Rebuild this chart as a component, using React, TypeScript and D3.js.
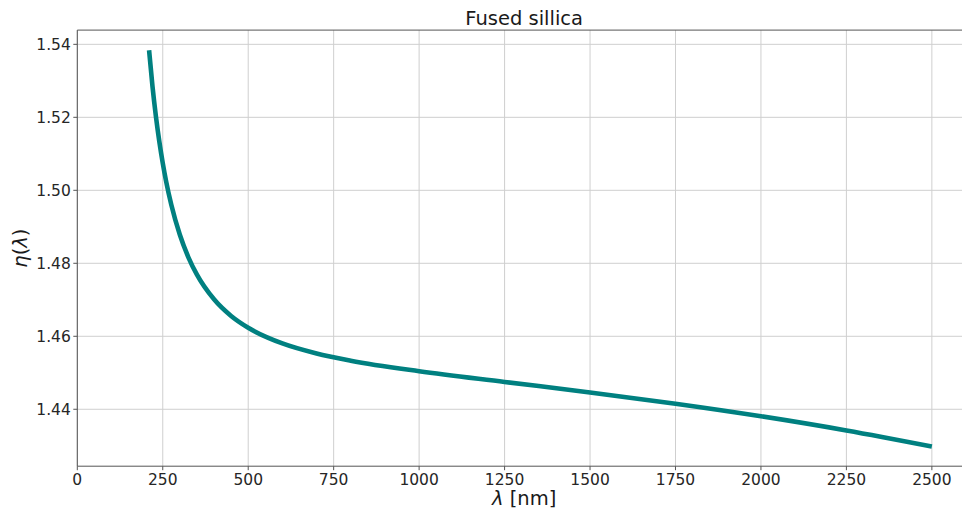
import React from "react";
import * as d3 from "d3";

const wavelengths = [210, 220, 230, 240, 250, 260, 275, 300, 325, 350, 400, 450, 500, 600, 700, 800, 1000, 1250, 1500, 1750, 2000, 2250, 2500];
const indices = [1.53836, 1.52845, 1.52024, 1.51333, 1.50745, 1.50238, 1.49602, 1.4878, 1.48164, 1.47689, 1.47013, 1.46557, 1.46233, 1.45804, 1.45529, 1.45332, 1.45042, 1.44749, 1.44462, 1.44153, 1.43809, 1.4342, 1.4298];
const xTicks = [0, 250, 500, 750, 1000, 1250, 1500, 1750, 2000, 2250, 2500];
const yTicks = [1.44, 1.46, 1.48, 1.5, 1.52, 1.54];

const W = 962;
const H = 514;
const left = 77.3;
const right = 971;
const top = 30.1;
const bottom = 466.2;
const font = "'DejaVu Sans', sans-serif";

export default function App() {
  const x = d3.scaleLinear().domain([0, 2614.5]).range([left, right]);
  const y = d3.scaleLinear().domain([1.4244, 1.5439]).range([bottom, top]);
  const pts = wavelengths.map((w, i) => [w, indices[i]] as [number, number]);
  const line = d3
    .line<[number, number]>()
    .x((d) => x(d[0]))
    .y((d) => y(d[1]))
    .curve(d3.curveMonotoneX);
  const yFmt = d3.format(".2f");
  return (
    <svg
      width={W}
      height={H}
      style={{ position: "absolute", left: 0, top: 0, background: "#fff" }}
      fontFamily={font}
    >
      <rect x={0} y={0} width={W} height={H} fill="#fff" />
      {xTicks.map((t) => (
        <line key={"gx" + t} x1={x(t)} x2={x(t)} y1={top} y2={bottom} stroke="#cfcfcf" strokeWidth={1} />
      ))}
      {yTicks.map((t) => (
        <line key={"gy" + t} x1={left} x2={right} y1={y(t)} y2={y(t)} stroke="#cfcfcf" strokeWidth={1} />
      ))}
      <path d={line(pts) || ""} fill="none" stroke="#008080" strokeWidth={4.6} />
      <line x1={left} x2={left} y1={top} y2={bottom} stroke="#555" strokeWidth={1} />
      <line x1={left} x2={right} y1={bottom} y2={bottom} stroke="#555" strokeWidth={1} />
      <line x1={left} x2={right} y1={top} y2={top} stroke="#555" strokeWidth={1} />
      {xTicks.map((t) => (
        <g key={"tx" + t}>
          <line x1={x(t)} x2={x(t)} y1={bottom} y2={bottom + 4} stroke="#555" strokeWidth={1} />
          <text x={x(t)} y={bottom + 18.5} textAnchor="middle" fontSize={15.5} fill="#262626">
            {t}
          </text>
        </g>
      ))}
      {yTicks.map((t) => (
        <g key={"ty" + t}>
          <line x1={left - 4} x2={left} y1={y(t)} y2={y(t)} stroke="#555" strokeWidth={1} />
          <text x={left - 6.5} y={y(t)} dy="0.36em" textAnchor="end" fontSize={15.5} fill="#262626">
            {yFmt(t)}
          </text>
        </g>
      ))}
      <text x={(left + right) / 2} y={25} textAnchor="middle" fontSize={19.5} fill="#1a1a1a">
        Fused sillica
      </text>
      <text x={(left + right) / 2} y={505} textAnchor="middle" fontSize={19.5} fill="#1a1a1a">
        <tspan fontStyle="italic">λ</tspan> [nm]
      </text>
      <text
        transform={`translate(27, ${(top + bottom) / 2}) rotate(-90)`}
        textAnchor="middle"
        fontSize={19.5}
        fill="#1a1a1a"
      >
        <tspan fontStyle="italic">η</tspan>(<tspan fontStyle="italic">λ</tspan>)
      </text>
    </svg>
  );
}
